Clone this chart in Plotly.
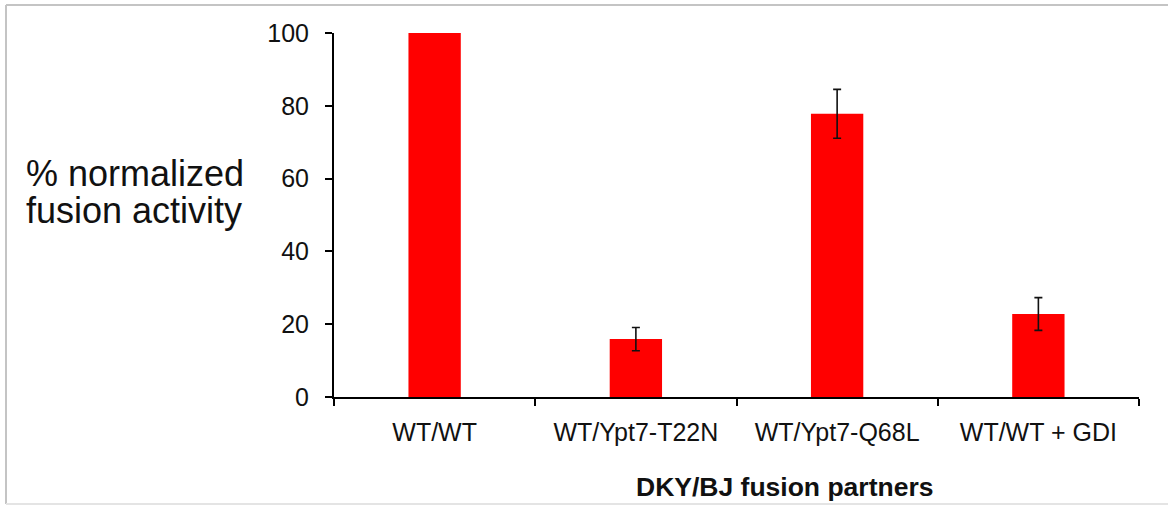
import plotly.graph_objects as go

categories = ["WT/WT", "WT/Ypt7-T22N", "WT/Ypt7-Q68L", "WT/WT + GDI"]
values = [100, 15.9, 77.8, 22.8]
errors = [None, 3.2, 6.7, 4.5]
y_ticks = [0, 20, 40, 60, 80, 100]

W, H = 1168, 506
L, R, T, B = 334, 29, 33, 109
pw, ph = W - L - R, H - T - B

def px_x(p):
    return (p - L) / pw

def px_y(p):
    return (H - B - p) / ph

FONT = "Liberation Sans, Arial, sans-serif"

fig = go.Figure()
fig.add_trace(go.Bar(
    x=categories, y=values, width=0.26,
    marker=dict(color="#ff0000", line=dict(width=0)),
))
# error bars only for the categories that have one
err_x = [c for c, e in zip(categories, errors) if e is not None]
err_y = [v for v, e in zip(values, errors) if e is not None]
err_v = [e for e in errors if e is not None]
fig.add_trace(go.Scatter(
    x=err_x, y=err_y, mode="markers",
    marker=dict(size=0.1, color="rgba(0,0,0,0)"),
    error_y=dict(type="data", array=err_v, visible=True,
                 color="#111111", thickness=1.6, width=4),
    hoverinfo="skip",
))

border = dict(color="#c4c4c4", width=2)

fig.update_layout(
    width=W, height=H,
    margin=dict(l=L, r=R, t=T, b=B),
    paper_bgcolor="white", plot_bgcolor="white",
    showlegend=False,
    font=dict(family=FONT, color="#111111"),
    xaxis=dict(
        type="category", tickson="boundaries",
        showline=True, linecolor="black", linewidth=2,
        ticks="outside", ticklen=7, tickwidth=2, tickcolor="black",
        ticklabelstandoff=12,
        tickfont=dict(size=25, family=FONT, color="#111111"),
        showgrid=False, zeroline=False,
        range=[-0.5, 3.5],
    ),
    yaxis=dict(
        range=[0, 100], tickvals=y_ticks,
        showline=True, linecolor="black", linewidth=2,
        ticks="outside", ticklen=7, tickwidth=2, tickcolor="black",
        ticklabelstandoff=11,
        tickfont=dict(size=25, family=FONT, color="#111111"),
        showgrid=False, zeroline=False,
    ),
    annotations=[
        dict(text="% normalized", xref="paper", yref="paper",
             x=px_x(24), y=px_y(174), xanchor="left", yanchor="middle",
             align="left", showarrow=False,
             font=dict(size=36, family=FONT, color="#111111")),
        dict(text="fusion activity", xref="paper", yref="paper",
             x=px_x(24), y=px_y(210), xanchor="left", yanchor="middle",
             align="left", showarrow=False,
             font=dict(size=36, family=FONT, color="#111111")),
        dict(text="<b>DKY/BJ fusion partners</b>", xref="paper", yref="paper",
             x=px_x(784), y=px_y(487), xanchor="center", yanchor="middle",
             showarrow=False,
             font=dict(size=26.5, family=FONT, color="#111111")),
    ],
    shapes=[
        dict(type="line", xref="paper", yref="paper",
             x0=px_x(6), x1=px_x(1168), y0=px_y(5), y1=px_y(5), line=border),
        dict(type="line", xref="paper", yref="paper",
             x0=px_x(6), x1=px_x(6), y0=px_y(5), y1=px_y(504), line=border),
        dict(type="line", xref="paper", yref="paper",
             x0=px_x(6), x1=px_x(1168), y0=px_y(504), y1=px_y(504),
             line=dict(color="#e4e4e4", width=2)),
    ],
)

fig.write_html("out.html", config={"displayModeBar": False},
               post_script="document.body.style.margin='0';document.body.style.overflow='hidden';")
